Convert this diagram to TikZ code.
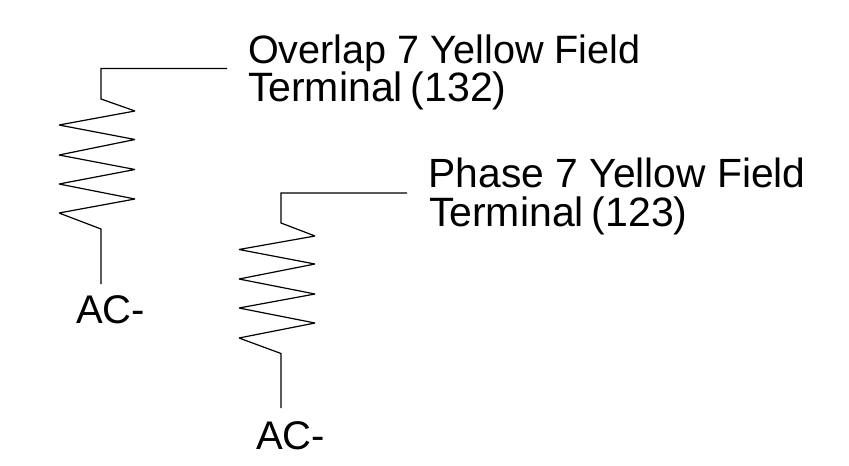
\documentclass[tikz,border=0pt]{standalone}
\usepackage{fontspec}
\setmainfont{Liberation Sans}
\begin{document}
\begin{tikzpicture}[x=1pt,y=-1pt,
  wire/.style={draw=black,line width=1.2pt,line join=miter,miter limit=3},
  lbl/.style={anchor=base west,inner sep=0pt,outer sep=0pt,font=\fontsize{40}{40}\selectfont},
  lblterm/.style={lbl,font=\fontsize{41}{41}\selectfont}]
\useasboundingbox (0,0) rectangle (849,466);
\node[lbl,font=\fontsize{39.6}{40}\selectfont] (ov) at (248,63.3) {Overlap 7 Yellow Field};
\node[lblterm] (ovt) at (248,101) {Terminal\hspace{8pt}(132)};
\node[lbl,font=\fontsize{40.8}{41}\selectfont] (ph) at (428.5,187.7) {Phase 7 Yellow Field};
\node[lblterm] (pht) at (429,226) {Terminal\hspace{8pt}(123)};
\node[lbl] (ac1) at (76,323.5) {AC-};
\node[lbl] (ac2) at (256,449) {AC-};
\coordinate (t1) at (227,68.5);
\coordinate (b1) at (101,284);
\coordinate (t2) at (407,193);
\coordinate (b2) at (281,408);
\draw[wire] (t1) -- (101,68.5) -- (101,99) -- (135,111) -- (59,125) -- (135,139.5) -- (59,155) -- (135,169.5) -- (59,184) -- (135,199) -- (59,213) -- (101,229) -- (b1);
\draw[wire] (t2) -- (281,193) -- (281,223) -- (315,236) -- (239,249.5) -- (315,264) -- (239,279) -- (315,294) -- (239,308) -- (315,323) -- (239,338) -- (281,353.5) -- (b2);
\end{tikzpicture}
\end{document}
